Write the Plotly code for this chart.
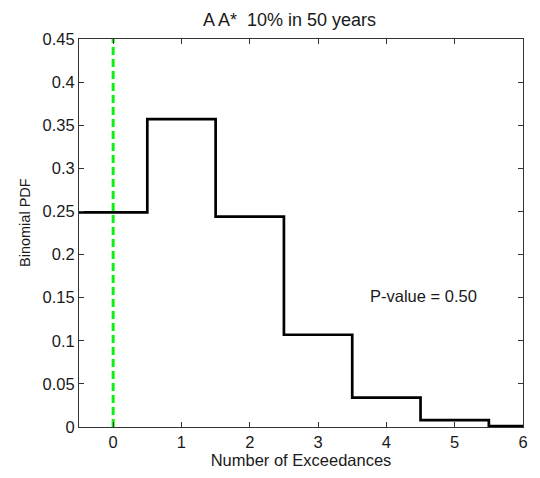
import plotly.graph_objects as go

# Data
exceedances = [0, 1, 2, 3, 4, 5, 6]
binomial_pdf = [0.249, 0.357, 0.244, 0.107, 0.034, 0.008, 0.001]
observed = 0
pvalue_text = "P-value = 0.50"
title_text = "A A*\u00a0\u00a010% in 50 years"
x_ticks = [0, 1, 2, 3, 4, 5, 6]
y_ticks = [0, 0.05, 0.1, 0.15, 0.2, 0.25, 0.3, 0.35, 0.4, 0.45]

# stairs: edges at k-0.5
step_x = [k - 0.5 for k in exceedances] + [exceedances[-1] + 0.5]
step_y = binomial_pdf + [binomial_pdf[-1]]

FONT = "Liberation Sans, Arial"
TXT = "#1a1a1a"

fig = go.Figure()
fig.add_trace(go.Scatter(x=step_x, y=step_y, mode="lines", line_shape="hv",
                         line=dict(color="black", width=2.7), showlegend=False))
fig.add_trace(go.Scatter(x=[observed, observed], y=[0, 0.45], mode="lines",
                         line=dict(color="#11ee11", width=3, dash="8px,4px"), showlegend=False))

fig.add_annotation(x=4.55, y=0.152, text=pvalue_text, showarrow=False,
                   font=dict(family=FONT, size=16.5, color=TXT))

# title
fig.add_annotation(xref="paper", yref="paper", x=(289.5 - 79) / 444, y=(427 - 20) / 388,
                   text=title_text, showarrow=False, xanchor="center", yanchor="middle",
                   font=dict(family=FONT, size=18, color=TXT))
# y label
fig.add_annotation(xref="paper", yref="paper", x=(25 - 79) / 444, y=(427 - 223) / 388,
                   text="Binomial PDF", showarrow=False, textangle=-90,
                   xanchor="center", yanchor="middle",
                   font=dict(family=FONT, size=14.5, color=TXT))

axis_common = dict(showline=True, linecolor="#333", linewidth=1, mirror="allticks",
                   ticks="inside", ticklen=5, tickcolor="#333", showgrid=False, zeroline=False,
                   tickfont=dict(family=FONT, size=16.5, color=TXT))

fig.update_layout(
    width=540, height=478,
    margin=dict(l=79, r=17, t=39, b=51),
    paper_bgcolor="white", plot_bgcolor="white",
    xaxis=dict(range=[-0.5, 6], tickvals=x_ticks, ticktext=[str(v) for v in x_ticks],
               title=dict(text="Number of Exceedances", standoff=1,
                          font=dict(family=FONT, size=16.5, color=TXT)),
               **axis_common),
    yaxis=dict(range=[0, 0.45], tickvals=y_ticks, ticktext=[("%g" % v) for v in y_ticks],
               **axis_common),
)

fig.write_html("out.html", config={"displayModeBar": False},
               post_script="document.body.style.margin='0';document.body.style.padding='0';")
